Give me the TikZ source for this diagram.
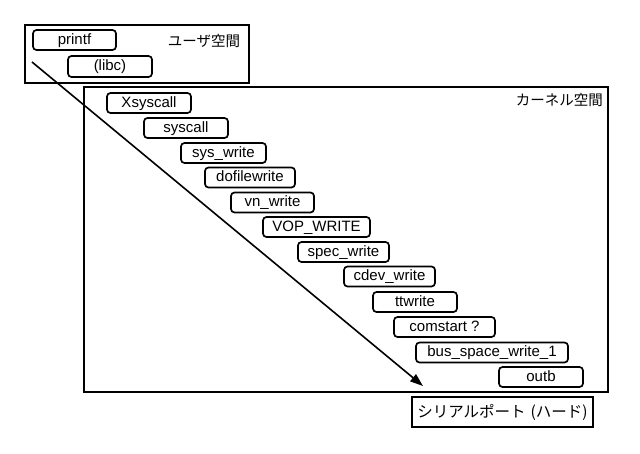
\documentclass[tikz,border=0pt]{standalone}
\usepackage{fontspec}
\setmainfont{Liberation Sans}
\newfontfamily\jp{Noto Sans CJK JP}
\usetikzlibrary{arrows.meta}
\begin{document}
\begin{tikzpicture}[x=1pt,y=-1pt,
  fn/.style={draw, line width=1.7pt, rounded corners=3.5pt, inner sep=0pt,
    minimum height=20pt, text height=11pt, text depth=3pt,
    font=\fontsize{15}{18}\selectfont},
  area/.style={draw, line width=1.7pt, inner sep=0pt},
  lbl/.style={inner sep=0pt, font=\fontsize{14.5}{18}\selectfont\jp}]
\useasboundingbox (0,0) rectangle (640,453);
% areas
\node[area, minimum width=224pt, minimum height=58pt] (user) at (137,54) {};
\node[area, minimum width=524pt, minimum height=305pt] (kernel) at (346,239.5) {};
\node[lbl] (userlbl) at (204,41) {ユーザ空間};
\node[lbl, anchor=east] (kernlbl) at (603,100) {カーネル空間};
% functions
\node[fn, minimum width=83pt] (printf) at (74.5,40) {printf};
\node[fn, minimum width=84pt, minimum height=21pt] (libc) at (110,66.5) {(libc)};
\node[fn, minimum width=84pt] (xsys) at (149,103) {Xsyscall};
\node[fn, minimum width=84pt] (sys) at (186,128) {syscall};
\node[fn, minimum width=85pt] (syswrite) at (223.5,153) {sys\_write};
\node[fn, minimum width=90pt] (dofile) at (250,177.5) {dofilewrite};
\node[fn, minimum width=83pt] (vn) at (272.5,202.5) {vn\_write};
\node[fn, minimum width=107pt] (vop) at (316.5,227) {VOP\_WRITE};
\node[fn, minimum width=91pt] (spec) at (343.5,252) {spec\_write};
\node[fn, minimum width=91pt] (cdev) at (389.5,276.5) {cdev\_write};
\node[fn, minimum width=84pt] (tt) at (415,302) {ttwrite};
\node[fn, minimum width=101pt] (com) at (444.5,327) {comstart ?};
\node[fn, minimum width=152pt] (bus) at (492,352.5) {bus\_space\_write\_1};
\node[fn, minimum width=84pt] (outb) at (541,377) {outb};
% hardware
\node[area, minimum width=181pt, minimum height=30pt, font=\fontsize{15.5}{18}\selectfont\jp] (serial) at (502.5,412) {シリアルポート\hspace{5pt}(ハード)};
% flow arrow
\coordinate (fstart) at (32,62);
\coordinate (fend) at (423,386);
\draw[line width=1.6pt, -{Triangle[length=13pt,width=9pt]}] (fstart) -- (fend);
\end{tikzpicture}
\end{document}
